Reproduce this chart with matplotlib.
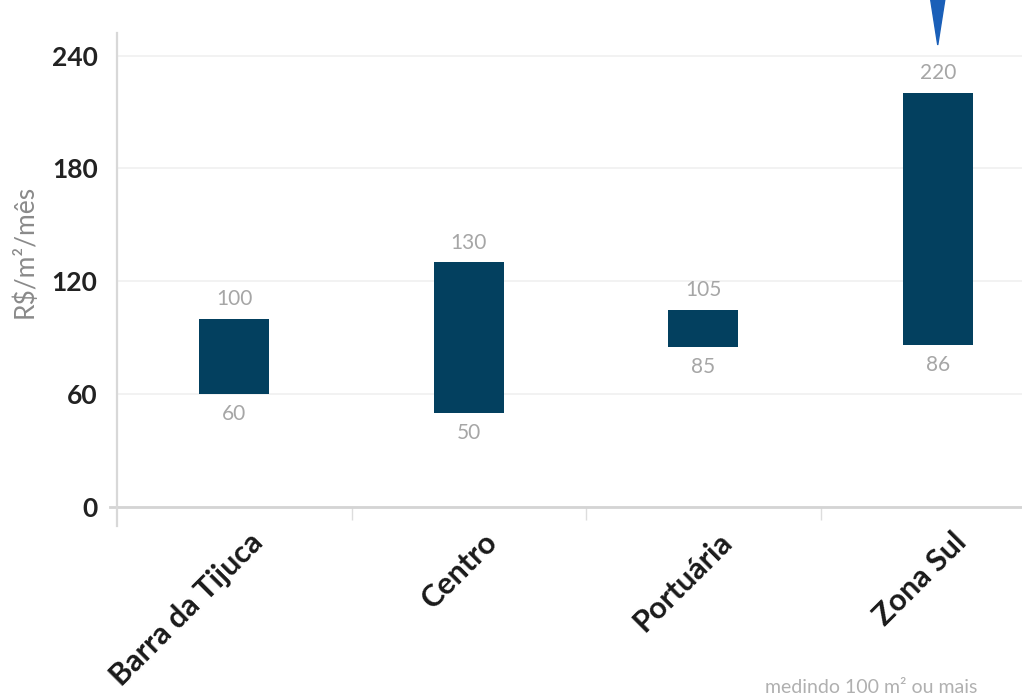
import matplotlib.pyplot as plt
import matplotlib.transforms as mtransforms
from matplotlib.patches import Polygon

# faixas de preço por região
regioes = ["Barra da Tijuca", "Centro", "Portuária", "Zona Sul"]
minimo = [60, 50, 85, 86]
maximo = [100, 130, 105, 220]
yticks = [0, 60, 120, 180, 240]

cor_barra = "#03405f"
cinza_txt = "#a6a6a6"

fig = plt.figure(figsize=(10.22, 7.0), dpi=100)
ax = fig.add_axes([117 / 1022, 193 / 700, 938 / 1022, 474 / 700])

x = range(len(regioes))
alturas = [hi - lo for lo, hi in zip(minimo, maximo)]
ax.bar(x, alturas, bottom=minimo, width=0.30, color=cor_barra, zorder=3)

for i, (lo, hi) in enumerate(zip(minimo, maximo)):
    ax.annotate(str(hi), (i, hi), xytext=(0, 7), textcoords="offset points",
                ha="center", va="bottom", fontsize=15, color=cinza_txt,
                family="Lato")
    ax.annotate(str(lo), (i, lo), xytext=(0, -7), textcoords="offset points",
                ha="center", va="top", fontsize=15, color=cinza_txt,
                family="Lato")

ax.set_xlim(-0.5, 3.5)
ax.set_ylim(0, 252)

ax.set_yticks(yticks)
ax.set_yticklabels([str(v) for v in yticks], fontsize=19, fontweight="bold",
                   color="#222222", family="Lato")
ax.tick_params(axis="y", length=0, pad=14)
ax.grid(axis="y", color="#f0f0f0", linewidth=1.2, zorder=0)

ax.set_xticks(list(x))
ax.set_xticklabels(regioes, rotation=45, ha="right", va="center",
                   rotation_mode="anchor", fontsize=22, fontweight="bold",
                   color="#1a1a1a", family="Lato")
ax.tick_params(axis="x", length=0, pad=22)
desloc = mtransforms.ScaledTranslation(24 / 100, 0, fig.dpi_scale_trans)
for lbl in ax.get_xticklabels():
    lbl.set_transform(lbl.get_transform() + desloc)

# marcas entre as categorias
ax.set_xticks([0.5, 1.5, 2.5], minor=True)
ax.tick_params(axis="x", which="minor", length=9, width=1, color="#dddddd")

for lado in ["top", "right", "bottom", "left"]:
    ax.spines[lado].set_visible(False)

# linhas dos eixos, estendidas além da área do gráfico
ax.plot([-0.53, 3.5], [0, 0], color="#d4d4d4", linewidth=2.0,
        clip_on=False, zorder=4)
ax.plot([-0.5, -0.5], [-10, 252], color="#d8d8d8", linewidth=1.6,
        clip_on=False, zorder=4)

ax.set_ylabel("R$/m²/mês", fontsize=19, color="#8a8a8a", family="Lato")
ax.yaxis.set_label_coords(-0.085, 0.54)

# marcador azul sobre a Zona Sul
trans = mtransforms.blended_transform_factory(ax.transData, fig.transFigure)
seta = Polygon([(3 - 0.03, 1.0), (3 + 0.03, 1.0), (3, 1 - 45 / 700)],
               closed=True, transform=trans, color="#1a5fb8", clip_on=False)
fig.patches.append(seta)

fig.text(765 / 1022, 4 / 700, "medindo 100 m² ou mais", fontsize=14,
         color="#b0b0b0", family="Lato", va="bottom")

fig.savefig("out.png", dpi=100)
